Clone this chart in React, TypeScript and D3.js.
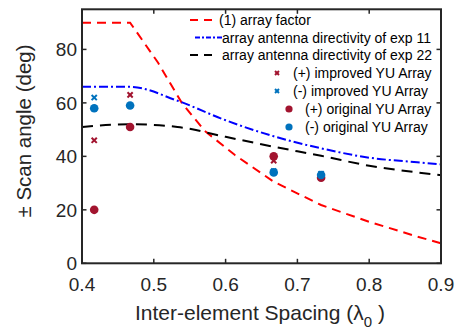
import React from "react";
import * as d3 from "d3";

const afSpacing = [0.4, 0.467, 0.506, 0.539, 0.571, 0.613, 0.667, 0.733, 0.8, 0.867, 0.9];
const arrayFactor = [90, 90, 75, 60, 49.5, 40.5, 30.5, 21.8, 15.5, 10, 7.5];

const spacing = [0.4, 0.467, 0.533, 0.6, 0.667, 0.733, 0.8, 0.867, 0.9];
const directivity11 = [66, 66, 60.8, 53.5, 47.5, 43, 39.5, 37.8, 37];
const directivity22 = [51, 52, 51, 47.3, 43.6, 40.2, 36.5, 34, 33];

const pointX = [0.417, 0.467, 0.667, 0.733];
const improvedPlus = [46, 63, 38.4, 32.4];
const improvedMinus = [62, null, 34.5, 33.5];
const originalPlus = [20, 51, 40, 32];
const originalMinus = [58, 59, 34, 33];

const xTicks = [0.4, 0.5, 0.6, 0.7, 0.8, 0.9];
const yTicks = [0, 20, 40, 60, 80];

const legendLabels = [
  "(1) array factor",
  "array antenna directivity of exp 11",
  "array antenna directivity of exp 22",
  "(+) improved YU Array",
  "(-) improved YU Array",
  "(+) original YU Array",
  "(-) original YU Array",
];

const RED = "#ff0000";
const BLUE = "#0000ff";
const DARKRED = "#a2142f";
const MBLUE = "#0072bd";
const AX = "#262626";
const FONT = "'Liberation Sans', Arial, sans-serif";

export default function App() {
  const left = 82, right = 441, top = 9.3, bottom = 263.3;
  const x = d3.scaleLinear().domain([0.4, 0.9]).range([left, right]);
  const y = d3.scaleLinear().domain([0, 95]).range([bottom, top]);

  const lineAF = d3.line<number>().x((_, i) => x(afSpacing[i])).y((d) => y(d));
  const lineSmooth = d3
    .line<number>()
    .x((_, i) => x(spacing[i]))
    .y((d) => y(d))
    .curve(d3.curveMonotoneX);

  const cross = (cx: number, cy: number, color: string, key: string, s = 2.6) => (
    <g key={key} stroke={color} strokeWidth={2}>
      <line x1={cx - s} y1={cy - s} x2={cx + s} y2={cy + s} />
      <line x1={cx - s} y1={cy + s} x2={cx + s} y2={cy - s} />
    </g>
  );

  const legendRowY = [20, 37.5, 55, 73, 91, 109, 127];
  const legendTextX = [219, 222, 222, 293, 293, 305, 305];

  return (
    <svg
      width={456}
      height={330}
      style={{ position: "absolute", left: 0, top: 0, background: "#fff" }}
      fontFamily={FONT}
    >
      <defs>
        <clipPath id="plot">
          <rect x={left} y={top} width={right - left} height={bottom - top} />
        </clipPath>
      </defs>
      <rect width={456} height={330} fill="#fff" />

      <g clipPath="url(#plot)" fill="none" strokeWidth={2}>
        <path d={lineAF(arrayFactor) || ""} stroke={RED} strokeDasharray="9 6" />
        <path d={lineSmooth(directivity11) || ""} stroke={BLUE} strokeDasharray="9 3 2 3" />
        <path d={lineSmooth(directivity22) || ""} stroke="#000" strokeDasharray="11 7" />
      </g>

      <g>
        {improvedMinus.map((v, i) =>
          v == null ? null : cross(x(pointX[i]), y(v), MBLUE, "im" + i)
        )}
        {improvedPlus.map((v, i) => cross(x(pointX[i]), y(v), DARKRED, "ip" + i))}
        {originalPlus.map((v, i) => (
          <circle key={"op" + i} cx={x(pointX[i])} cy={y(v)} r={4.3} fill={DARKRED} />
        ))}
        {originalMinus.map((v, i) => (
          <circle key={"om" + i} cx={x(pointX[i])} cy={y(v)} r={4.3} fill={MBLUE} />
        ))}
      </g>

      {/* axes box */}
      <rect
        x={left}
        y={top}
        width={right - left}
        height={bottom - top}
        fill="none"
        stroke={AX}
        strokeWidth={2}
      />
      {xTicks.map((t) => (
        <g key={"xt" + t} stroke={AX} strokeWidth={1.5}>
          <line x1={x(t)} x2={x(t)} y1={bottom} y2={bottom - 4.5} />
          <line x1={x(t)} x2={x(t)} y1={top} y2={top + 4.5} />
        </g>
      ))}
      {yTicks.map((t) => (
        <g key={"yt" + t} stroke={AX} strokeWidth={1.5}>
          <line x1={left} x2={left + 4.5} y1={y(t)} y2={y(t)} />
          <line x1={right} x2={right - 4.5} y1={y(t)} y2={y(t)} />
        </g>
      ))}
      {xTicks.map((t) => (
        <text
          key={"xl" + t}
          x={x(t)}
          y={291}
          textAnchor="middle"
          fontSize={19}
          fill={AX}
        >
          {d3.format(".1f")(t)}
        </text>
      ))}
      {yTicks.map((t) => (
        <text
          key={"yl" + t}
          x={77}
          y={y(t) + 7}
          textAnchor="end"
          fontSize={19}
          fill={AX}
        >
          {t}
        </text>
      ))}

      <text x={260} y={320} textAnchor="middle" fontSize={21} fill={AX}>
        Inter-element Spacing (λ
        <tspan fontSize={15} dy={7}>0</tspan>
        <tspan dy={-7}> )</tspan>
      </text>
      <text
        transform="translate(31,131) rotate(-90)"
        textAnchor="middle"
        fontSize={20.5}
        fill={AX}
      >
        ± Scan angle (deg)
      </text>

      {/* legend */}
      <g strokeWidth={2} fill="none">
        <line x1={190} x2={213} y1={legendRowY[0]} y2={legendRowY[0]} stroke={RED} strokeDasharray="8 6" />
        <line x1={195} x2={222} y1={legendRowY[1]} y2={legendRowY[1]} stroke={BLUE} strokeDasharray="5 2 2 2" />
        <line x1={190} x2={213} y1={legendRowY[2]} y2={legendRowY[2]} stroke="#000" strokeDasharray="8 6" />
      </g>
      {cross(277, legendRowY[3], DARKRED, "lg3", 2)}
      {cross(277, legendRowY[4], MBLUE, "lg4", 2)}
      <circle cx={289} cy={legendRowY[5]} r={3.6} fill={DARKRED} />
      <circle cx={289} cy={legendRowY[6]} r={3.6} fill={MBLUE} />
      {legendLabels.map((l, i) => (
        <text key={"lg" + i} x={legendTextX[i]} y={legendRowY[i] + 5} fontSize={14} fill="#000">
          {l}
        </text>
      ))}
    </svg>
  );
}
